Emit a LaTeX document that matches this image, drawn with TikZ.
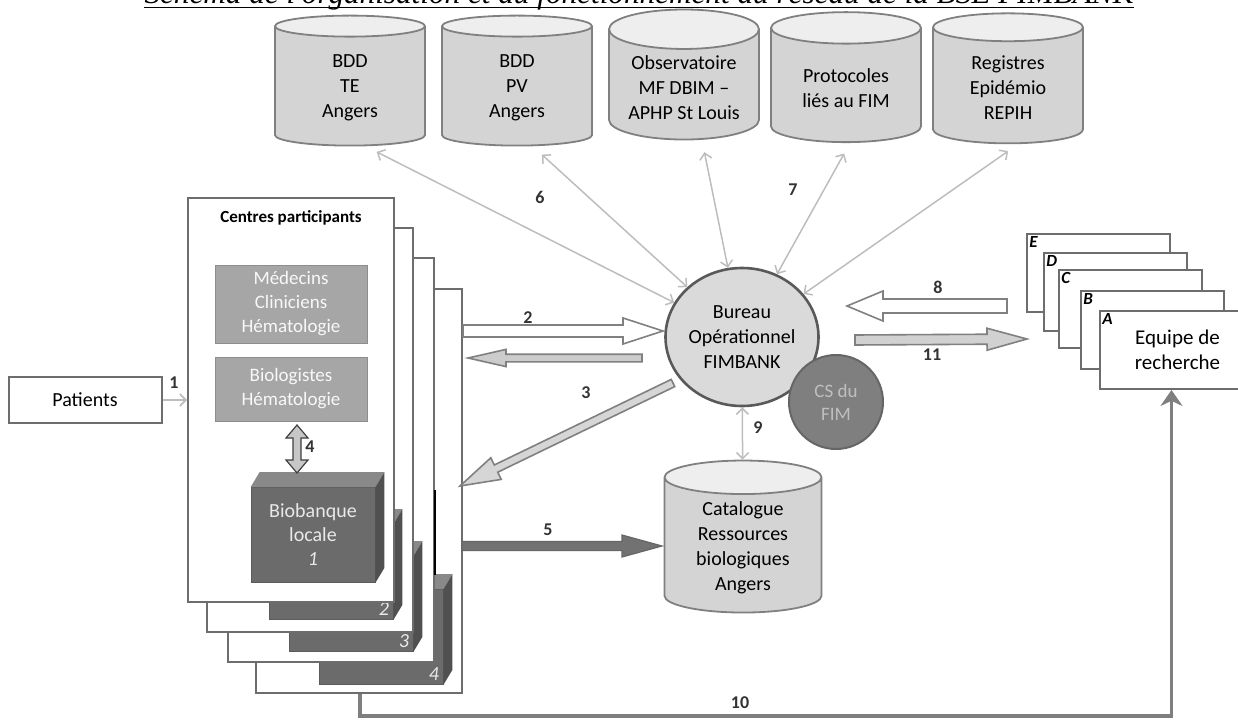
\documentclass[tikz,border=0pt]{standalone}
\usepackage{fontspec}
\setmainfont{Carlito}
\newfontfamily\titlefont{Liberation Serif}
\usetikzlibrary{shapes.geometric,arrows.meta,calc,positioning}

\definecolor{dbbody}{HTML}{D4D4D4}
\definecolor{dbtop}{HTML}{EEEEEE}
\definecolor{rim}{HTML}{808080}
\definecolor{linkgray}{HTML}{BDBDBD}
\definecolor{staff}{HTML}{A6A6A6}
\definecolor{bank}{HTML}{6B6B6B}
\definecolor{hubgray}{HTML}{DADADA}
\definecolor{csgray}{HTML}{7F7F7F}

% fleche epaisse: [style]{depart}{arrivee}{demi-tige}{demi-tete}{longueur tete}
\newcommand\fatarrow[6][]{%
  \coordinate (fa) at ($(#3)!#6!(#2)$);
  \filldraw[#1] ($(#2)!#4!90:(#3)$) -- ($(fa)!#4!-90:(#2)$) -- ($(fa)!#5!-90:(#2)$)
    -- (#3) -- ($(fa)!#5!90:(#2)$) -- ($(fa)!#4!90:(#2)$) -- ($(#2)!#4!-90:(#3)$) -- cycle;}
% idem, deux tetes
\newcommand\fatdarrow[6][]{%
  \coordinate (fa) at ($(#2)!#6!(#3)$);
  \coordinate (fb) at ($(#3)!#6!(#2)$);
  \filldraw[#1] (#2) -- ($(fa)!#5!90:(#3)$) -- ($(fa)!#4!90:(#3)$) -- ($(fb)!#4!-90:(#2)$)
    -- ($(fb)!#5!-90:(#2)$) -- (#3) -- ($(fb)!#5!90:(#2)$) -- ($(fb)!#4!90:(#2)$)
    -- ($(fa)!#4!-90:(#3)$) -- ($(fa)!#5!-90:(#3)$) -- cycle;}

\begin{document}
\begin{tikzpicture}[x=0.5pt,y=-0.5pt,
  db/.style={cylinder, shape border rotate=90, aspect=0.33, draw=rim, line width=0.9pt,
    cylinder uses custom fill, cylinder body fill=dbbody, cylinder end fill=dbtop,
    minimum width=75pt, minimum height=65pt, align=center, inner sep=2pt,
    font=\fontsize{10}{12.5}\selectfont},
  link/.style={linkgray, line width=0.75pt,
    {Straight Barb[length=3pt,width=6pt]}-{Straight Barb[length=3pt,width=6pt]}},
  page/.style={draw=rim!85!black, line width=1pt, fill=white, anchor=north west,
    minimum width=103pt, minimum height=202pt, inner sep=0pt},
  staffbox/.style={draw=staff!85!black, fill=staff, text=white!92!staff, align=center,
    minimum width=76pt, inner sep=1pt, font=\fontsize{9.5}{12}\selectfont},
  bankbox/.style={fill=bank, draw=bank!85!black, minimum width=62pt, minimum height=47.5pt, inner sep=0pt},
  team/.style={draw=rim!85!black, line width=1pt, fill=white, anchor=north west,
    minimum width=71.5pt, minimum height=39pt, inner sep=0pt},
  num/.style={font=\bfseries\fontsize{9}{10}\selectfont, text=black!80},
  route/.style={draw=csgray, line width=1.6pt, -{Stealth[length=8pt,width=11pt]}},
  ]
  \clip (0,0) rectangle (1238,722);
  \useasboundingbox (0,0) rectangle (1238,722);

  % titre, coupe en haut
  \node[anchor=base, inner sep=0pt, font=\titlefont\itshape\fontsize{15.6}{18}\selectfont] (titre) at (639,4)
    {Schéma de l'organisation et du fonctionnement du réseau de la BSE FIMBANK};
  \draw[line width=0.9pt] ([yshift=-1.8pt]titre.base west) -- ([yshift=-1.8pt]titre.base east);

  % bases de donnees
  \node[db] (bddte) at (350,88) {BDD\\TE\\Angers};
  \node[db] (bddpv) at (517,88) {BDD\\PV\\Angers};
  \node[db] (obs) at (684,88) {Observatoire\\MF DBIM --\\APHP St Louis};
  \node[db] (proto) at (846,88) {Protocoles\\liés au FIM};
  \node[db] (repih) at (1008,88) {Registres\\Epidémio\\REPIH};

  % bureau
  \node[ellipse, draw=black!65, line width=1.3pt, fill=hubgray, minimum width=76.5pt, minimum height=69pt,
    inner sep=0pt, align=center, font=\fontsize{10}{12.5}\selectfont] (hub) at (742,337) {Bureau\\Opérationnel\\FIMBANK};
  \foreach \db/\dx in {bddte/8, bddpv/8, obs/9, proto/2, repih/5}
    \draw[link, shorten <=6pt] ([xshift=\dx pt]\db.south) -- (hub);
  \node[num] (n6) at (540,197) {6};
  \node[num] (n7) at (793,190) {7};

  % catalogue
  \node[db, minimum width=78.5pt, minimum height=76pt] (cat) at (743,548)
    {Catalogue\\Ressources\\biologiques\\Angers};
  \draw[link] (hub) -- (cat);
  \node[num] (n9) at (758,428) {9};
  \node[circle, draw=black!60, line width=1pt, fill=csgray, minimum size=47pt, text=black!25,
    align=center, font=\fontsize{9.5}{11.5}\selectfont] (cs) at (836,402) {CS du\\FIM};

  % centres participants
  \foreach \n/\dx/\dy/\bx/\by in {4/68/91/68/102, 3/40/60/38/69, 2/19/30/18/37, 1/0/0/0/0} {
    \node[page] (page\n) at (187+\dx,197+\dy) {};
    \node[bankbox] (bank\n) at (313+\bx,535+\by) {};
    \fill[bank!80!white] (bank\n.north west) -- ++(9,-15) -- ([shift={(9,-15)}]bank\n.north east) -- (bank\n.north east) -- cycle;
    \fill[bank!75!black] (bank\n.north east) -- ++(9,-15) -- ([shift={(9,-15)}]bank\n.south east) -- (bank\n.south east) -- cycle;
    \ifnum\n>1 \node[anchor=south east, text=white!85!bank, inner sep=2pt,
      font=\itshape\fontsize{10}{12}\selectfont] (banknum\n) at (bank\n.south east) {\n}; \fi
  }
  \draw[black, line width=1.3pt] ([shift={(0,233)}]page3.north east) -- ([shift={(0,318)}]page3.north east);

  \node[font=\bfseries\fontsize{8.5}{10}\selectfont, below=3pt of page1.north] (centres) {Centres participants};
  \node[staffbox, minimum height=39pt] (medecins) at (291,304) {Médecins\\Cliniciens\\Hématologie};
  \node[staffbox, minimum height=32pt] (biolog) at (291,389) {Biologistes\\Hématologie};
  \node[text=white!85!bank, align=center, font=\fontsize{10}{12}\selectfont] (banktxt) at (bank1)
    {Biobanque\\locale\\\textit{1}};
  \coordinate (q4a) at (297,425);
  \coordinate (q4b) at (297,473);
  \fatdarrow[fill=black!22, draw=black!75, line width=0.6pt]{q4a}{q4b}{2pt}{5.5pt}{6.5pt}
  \node[num] (n4) at (310,447) {4};

  % patients
  \node[draw=rim!85!black, line width=1pt, minimum width=76.5pt, minimum height=23pt,
    font=\fontsize{10}{12}\selectfont] (patients) at (85,400) {Patients};
  \draw[linkgray, line width=0.8pt, -{Straight Barb[length=3pt,width=6pt]}] (patients) -- (patients -| page1.west);
  \node[num] (n1) at (174,383) {1};

  % fleches epaisses
  \coordinate (a2s) at (463,331);  \coordinate (a2e) at (663,331);
  \fatarrow[fill=white, draw=rim, line width=0.8pt]{a2s}{a2e}{3pt}{6.5pt}{20pt}
  \node[num] (n2) at (528,318) {2};
  \coordinate (ars) at (642,358);  \coordinate (are) at (468,358);
  \fatarrow[fill=black!20, draw=rim, line width=0.8pt]{ars}{are}{1.9pt}{4.3pt}{19pt}
  \coordinate (a3s) at (673,383);  \coordinate (a3e) at (460,486);
  \fatarrow[fill=black!16, draw=rim, line width=0.8pt]{a3s}{a3e}{2pt}{6pt}{20pt}
  \node[num] (n3) at (586,393) {3};
  \coordinate (a5s) at (462,546);  \coordinate (a5e) at (662,546);
  \fatarrow[fill=csgray!90!black, draw=csgray!80!black, line width=0.6pt]{a5s}{a5e}{2.3pt}{5.5pt}{20pt}
  \node[num] (n5) at (548,530) {5};
  \coordinate (a8s) at (1007,306); \coordinate (a8e) at (847,306);
  \fatarrow[fill=white, draw=rim, line width=0.8pt]{a8s}{a8e}{3.5pt}{7.5pt}{18pt}
  \node[num] (n8) at (938,287) {8};
  \coordinate (a11s) at (855,340); \coordinate (a11e) at (1027,339);
  \fatarrow[fill=black!18, draw=rim, line width=0.8pt]{a11s}{a11e}{2.5pt}{5.5pt}{20pt}
  \node[num] (n11) at (932,355) {11};

  % equipes de recherche
  \foreach \l/\dx/\dy in {E/0/0, D/17/19, C/32/36, B/54/57, A/73/77} {
    \node[team] (team\l) at (1026+\dx,233+\dy) {};
    \node[anchor=north west, inner sep=1.5pt, font=\bfseries\itshape\fontsize{8.5}{10}\selectfont] (lettre\l) at (team\l.north west) {\l};
  }
  \node[align=center, font=\fontsize{10.5}{12.5}\selectfont] (equipe) at ([xshift=3pt]teamA.center) {Equipe de\\recherche};

  \draw[route] ([xshift=52.5pt]page4.south west) -- ++(0,22) -| (teamA.south);
  \node[num] (n10) at (740,703) {10};
\end{tikzpicture}
\end{document}
